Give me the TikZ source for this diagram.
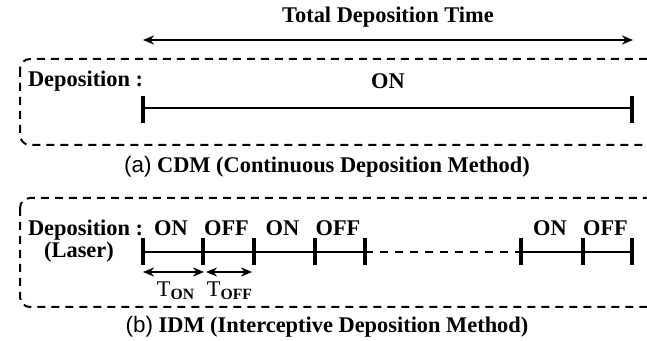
\documentclass[tikz,border=0pt]{standalone}
\usepackage{fontspec}
\setmainfont{Liberation Serif}
\newfontfamily\capfont{Liberation Sans}
\usetikzlibrary{calc,arrows.meta}
\begin{document}
\begin{tikzpicture}[x=0.5pt,y=-0.5pt,>={Stealth[length=5.5pt,width=4.5pt]},font=\fontsize{11.2}{13}\selectfont\bfseries,
	period/.style={dashed,dash pattern=on 4pt off 3pt,line width=1pt,rounded corners=5pt},
	tline/.style={line width=1.3pt},
	tick/.style={line width=1.7pt},
	span/.style={<->,line width=1.1pt}]
				\useasboundingbox (0,0) rectangle (647,341);
				\clip (0,0) rectangle (647,341);
				% total time
				\node (total) at (388,17) {Total Deposition Time};
				\coordinate (ts) at (143,40);
				\coordinate (te) at (633,40);
				\draw[span] (ts)--(te);
				% (a) CDM
				\draw[period] (20,59) rectangle (672,145);
				\node[anchor=west] (depa) at (21,81) {Deposition :};
				\node (ona) at (388,81) {ON};
				\coordinate (as) at (143,108);
				\coordinate (ae) at (632,108);
				\draw[tline] (as)--(ae);
				\draw[tick] (143,96)--(143,123) (632,96)--(632,123);
				\node (capa) at (327,167) {{\capfont\mdseries(a)} CDM (Continuous Deposition Method)};
				% (b) IDM
				\draw[period] (20,198) rectangle (672,307);
				\node[anchor=west] (depb) at (21,230) {Deposition :};
				\node (laser) at (79,252) {(Laser)};
				\foreach \n/\x in {1/143,2/203,3/254,4/315,5/365,6/521,7/583,8/632}
					\coordinate (t\n) at (\x,252);
				\draw[tline] (t1)--(t5) (t6)--(t8);
				\draw[tline,dashed,dash pattern=on 4pt off 3.5pt] (t5)--(t6);
				\foreach \n in {1,...,8}
					\draw[tick] ([yshift=7pt]t\n)--([yshift=-6.5pt]t\n);
				\foreach \a/\b/\s [count=\i] in {1/2/ON,2/3/OFF,3/4/ON,4/5/OFF,6/7/ON,7/8/OFF}
					\node (lab\i) at ($(t\a)!0.5!(t\b)+(-2,-24)$) {\s};
				\coordinate (ons) at (143,272);
				\coordinate (one) at (204,272);
				\coordinate (offs) at (206,272);
				\coordinate (offe) at (252,272);
				\draw[span] (ons)--(one);
				\draw[span] (offs)--(offe);
				\node (ton) at (176,291) {\mdseries T\textsubscript{\bfseries ON}};
				\node (toff) at (230,291) {\mdseries T\textsubscript{\bfseries OFF}};
				\node (capb) at (327,327) {{\capfont\mdseries(b)} IDM (Interceptive Deposition Method)};
\end{tikzpicture}
\end{document}
